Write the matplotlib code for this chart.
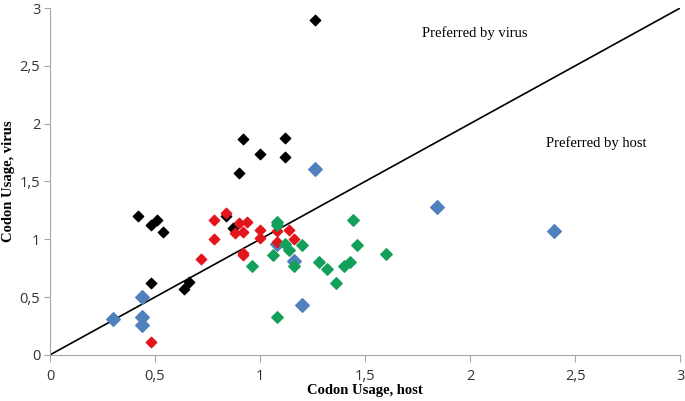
import matplotlib
matplotlib.use("Agg")
import matplotlib.pyplot as plt
from matplotlib.ticker import FuncFormatter

# codon usage (host, virus), grouped by marker colour
black_x = [0.42, 0.48, 0.51, 0.54, 0.48, 0.64, 0.66, 0.84, 0.87, 1.26, 0.92, 1.00, 1.12, 1.12, 0.90]
black_y = [1.20, 1.12, 1.17, 1.06, 0.62, 0.57, 0.63, 1.20, 1.10, 2.90, 1.87, 1.74, 1.88, 1.71, 1.57]

red_x = [0.84, 0.78, 0.78, 0.72, 0.90, 0.94, 0.88, 0.92, 0.92, 0.92, 1.00, 1.00, 1.08, 1.08, 1.14, 1.16, 0.48]
red_y = [1.23, 1.17, 1.00, 0.83, 1.14, 1.15, 1.05, 1.06, 0.88, 0.86, 1.08, 1.01, 1.07, 0.98, 1.08, 1.00, 0.11]

blue_x = [0.30, 0.44, 0.44, 0.44, 1.08, 1.16, 1.20, 1.26, 1.84, 2.40]
blue_y = [0.31, 0.50, 0.33, 0.26, 0.96, 0.81, 0.43, 1.61, 1.28, 1.07]

green_x = [1.08, 1.08, 1.06, 0.96, 1.12, 1.14, 1.16, 1.20, 1.08, 1.28, 1.32, 1.36, 1.40, 1.43, 1.44, 1.46, 1.60]
green_y = [1.15, 1.12, 0.86, 0.77, 0.96, 0.91, 0.77, 0.95, 0.33, 0.80, 0.74, 0.62, 0.77, 0.80, 1.17, 0.95, 0.87]

fig = plt.figure(figsize=(6.85, 4.01), dpi=100)
ax = fig.add_axes([0.073, 0.115, 0.920, 0.865])

ax.plot([0, 3], [0, 3], color="black", lw=1.2, zorder=1)

ax.scatter(black_x, black_y, marker="D", s=28, color="black", zorder=3)
ax.scatter(red_x, red_y, marker="D", s=28, color="#E3141B", zorder=3)
ax.scatter(green_x, green_y, marker="D", s=34, color="#13A05A", zorder=3)
ax.scatter(blue_x, blue_y, marker="D", s=48, color="#4F81BD", zorder=2)

ax.set_xlim(0, 3)
ax.set_ylim(0, 3)
ax.set_xticks([0, 0.5, 1, 1.5, 2, 2.5, 3])
ax.set_yticks([0, 0.5, 1, 1.5, 2, 2.5, 3])
fmt = FuncFormatter(lambda v, _: f"{v:g}".replace(".", ","))
ax.xaxis.set_major_formatter(fmt)
ax.yaxis.set_major_formatter(fmt)

for s in ["top", "right"]:
    ax.spines[s].set_visible(False)
for s in ["left", "bottom"]:
    ax.spines[s].set_color("#A6A6A6")
ax.tick_params(colors="#A6A6A6", labelcolor="#333333", labelsize=10.5, length=4)
ax.tick_params(axis="x", length=5, pad=5)
ax.tick_params(axis="y", pad=3)
for lab in ax.get_xticklabels() + ax.get_yticklabels():
    lab.set_family("Open Sans")

serif = "Liberation Serif"
ax.set_xlabel("Codon Usage, host", family=serif, fontweight="bold", fontsize=10.5, labelpad=0)
ax.set_ylabel("Codon Usage, virus", family=serif, fontweight="bold", fontsize=10.5, labelpad=3)

ax.text(2.02, 2.78, "Preferred by virus", family=serif, fontsize=10.5, ha="center", va="center")
ax.text(2.60, 1.83, "Preferred by host", family=serif, fontsize=10.5, ha="center", va="center")

fig.savefig("out.png", dpi=100)
